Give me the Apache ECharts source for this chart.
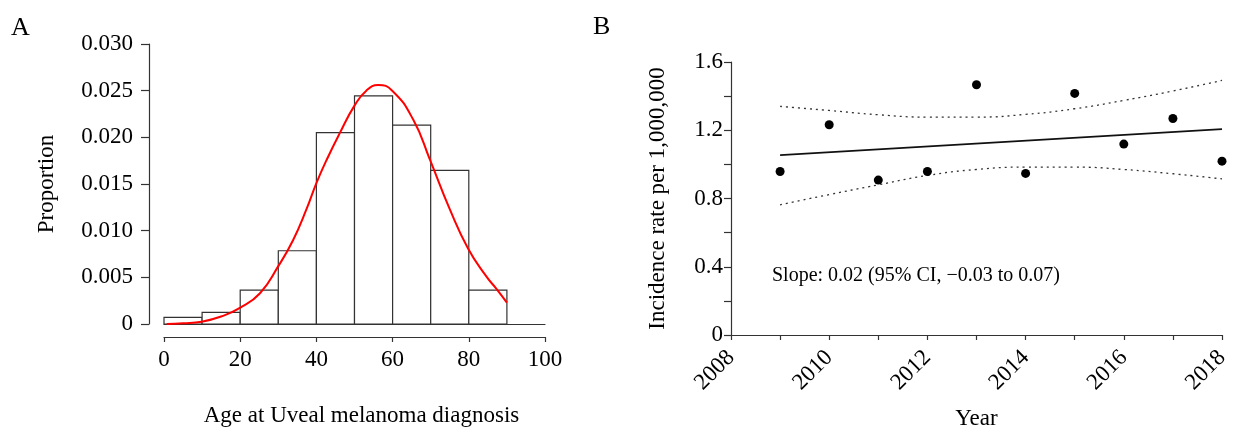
<!DOCTYPE html>
<html>
<head>
<meta charset="utf-8">
<script src="https://cdn.jsdelivr.net/npm/echarts@6/dist/echarts.min.js"></script>
<style>html,body{margin:0;padding:0;background:#fff;}#c{width:1235px;height:428px;}</style>
</head>
<body>
<div id="c"></div>
<script>
// Panel A: histogram of age at diagnosis
const binLow = [0, 10, 20, 30, 40, 50, 60, 70, 80];
const binHigh = [10, 20, 30, 40, 50, 60, 70, 80, 90];
const binProportion = [0.00072, 0.00125, 0.00362, 0.00785, 0.0205, 0.02444, 0.0213, 0.01645, 0.00362];
// Panel A: density curve (age, density)
const curveAge = [0.7, 5, 9.9, 15, 19.8, 25.2, 30, 33.9, 37.4, 40, 42.7, 46.2, 50, 53.1, 56.2, 59.9, 65.4, 69.9, 75, 79.8, 84.6, 87.2, 90];
const curveDensity = [0, 0.00008, 0.00025, 0.0008, 0.0017, 0.0033, 0.0062, 0.009, 0.0123, 0.0151, 0.0176, 0.0205, 0.0234, 0.025, 0.0256, 0.025, 0.0219, 0.0175, 0.0123, 0.0081, 0.0051, 0.0038, 0.0023];
// Panel B: incidence by year
const years = [2009, 2010, 2011, 2012, 2013, 2014, 2015, 2016, 2017, 2018];
const incidence = [0.958, 1.232, 0.908, 0.958, 1.467, 0.947, 1.416, 1.119, 1.269, 1.019];
const fitYears = [2009, 2018];
const fitValues = [1.054, 1.207];
const ciUpper = [1.340, 1.316, 1.291, 1.277, 1.277, 1.293, 1.326, 1.375, 1.430, 1.492];
const ciLower = [0.763, 0.823, 0.880, 0.935, 0.970, 0.984, 0.984, 0.970, 0.945, 0.915];
const slopeText = 'Slope: 0.02 (95% CI, \u22120.03 to 0.07)';

const FONT = '"Liberation Serif", "Times New Roman", serif';
const AX = '#333';
const FS = 23;

const chart = echarts.init(document.getElementById('c'), null, {renderer: 'canvas'});
const histData = binLow.map((lo, i) => [lo, binHigh[i], binProportion[i]]);

chart.setOption({
  animation: false,
  backgroundColor: '#fff',
  textStyle: {fontFamily: FONT, color: '#000'},
  grid: [
    {left: 164, top: 44, width: 381, height: 280, containLabel: false, outerBoundsMode: 'none'},
    {left: 731, top: 62, width: 491, height: 273, containLabel: false, outerBoundsMode: 'none'}
  ],
  xAxis: [
    {
      gridIndex: 0, type: 'value', position: 'bottom', min: 0, max: 100, interval: 20, offset: 13,
      name: 'Age at Uveal melanoma diagnosis', nameLocation: 'middle', nameGap: 67,
      nameTextStyle: {fontFamily: FONT, fontSize: FS, color: '#000', padding: [0, 0, 0, 14]},
      axisLine: {show: true, onZero: false, lineStyle: {color: AX, width: 1.2}},
      axisTick: {show: true, length: 5, lineStyle: {color: AX, width: 1.2}},
      axisLabel: {fontFamily: FONT, fontSize: FS, color: '#000', margin: 11},
      splitLine: {show: false}
    },
    {
      gridIndex: 0, type: 'value', position: 'bottom', offset: 0, min: 0, max: 100,
      axisLine: {show: true, onZero: false, lineStyle: {color: AX, width: 1.2}},
      axisTick: {show: false}, axisLabel: {show: false}, splitLine: {show: false}
    },
    {
      gridIndex: 1, type: 'value', position: 'bottom', min: 2008, max: 2018, interval: 1,
      name: 'Year', nameLocation: 'middle', nameGap: 72,
      nameTextStyle: {fontFamily: FONT, fontSize: FS, color: '#000'},
      axisLine: {show: true, onZero: false, lineStyle: {color: AX, width: 1.2}},
      axisTick: {show: true, length: 5, lineStyle: {color: AX, width: 1.2}},
      axisLabel: {
        fontFamily: FONT, fontSize: FS, color: '#000', rotate: 45, margin: 19,
        showMinLabel: true, showMaxLabel: true,
        formatter: v => (Math.round(v) % 2 === 0 ? String(Math.round(v)) : '')
      },
      splitLine: {show: false}
    }
  ],
  yAxis: [
    {
      gridIndex: 0, type: 'value', position: 'left', min: 0, max: 0.03, interval: 0.005, offset: 15,
      name: 'Proportion', nameLocation: 'middle', nameGap: 91,
      nameTextStyle: {fontFamily: FONT, fontSize: FS, color: '#000'},
      axisLine: {show: true, onZero: false, lineStyle: {color: AX, width: 1.2}},
      axisTick: {show: true, length: 8, lineStyle: {color: AX, width: 1.2}},
      axisLabel: {fontFamily: FONT, fontSize: FS, color: '#000', margin: 16,
        formatter: v => (v === 0 ? '0' : v.toFixed(3))},
      splitLine: {show: false}
    },
    {
      gridIndex: 1, type: 'value', position: 'left', min: 0, max: 1.6, interval: 0.4,
      name: 'Incidence rate per 1,000,000', nameLocation: 'middle', nameGap: 62,
      nameTextStyle: {fontFamily: FONT, fontSize: FS, color: '#000'},
      axisLine: {show: true, onZero: false, lineStyle: {color: AX, width: 1.2}},
      axisTick: {show: true, length: 7, lineStyle: {color: AX, width: 1.2}},
      minorTick: {show: true, splitNumber: 2, length: 7, lineStyle: {color: AX, width: 1.2}},
      axisLabel: {fontFamily: FONT, fontSize: FS, color: '#000', margin: 8,
        formatter: v => (v === 0 ? '0' : v.toFixed(1))},
      splitLine: {show: false}
    }
  ],
  graphic: [
    {type: 'text', left: 11, top: 15, style: {text: 'A', font: '26px ' + FONT, fill: '#000'}},
    {type: 'text', left: 593, top: 14, style: {text: 'B', font: '26px ' + FONT, fill: '#000'}},
    {type: 'text', left: 772, top: 266, style: {text: slopeText, font: '20px ' + FONT, fill: '#000'}}
  ],
  series: [
    {
      type: 'custom', xAxisIndex: 0, yAxisIndex: 0,
      data: histData, encode: {x: [0, 1], y: 2},
      renderItem: (params, api) => {
        const p0 = api.coord([api.value(0), api.value(2)]);
        const p1 = api.coord([api.value(1), 0]);
        return {type: 'rect', shape: {x: p0[0], y: p0[1], width: p1[0] - p0[0], height: p1[1] - p0[1]},
          style: {fill: '#fff', stroke: '#333', lineWidth: 1.2}};
      }
    },
    {
      type: 'line', xAxisIndex: 0, yAxisIndex: 0, smooth: true, showSymbol: false, symbol: 'none',
      data: curveAge.map((a, i) => [a, curveDensity[i]]),
      lineStyle: {color: '#ff0000', width: 2}, z: 5
    },
    {
      type: 'line', xAxisIndex: 2, yAxisIndex: 1, symbol: 'none',
      data: fitYears.map((y, i) => [y, fitValues[i]]),
      lineStyle: {color: '#111', width: 1.8}
    },
    {
      type: 'line', xAxisIndex: 2, yAxisIndex: 1, symbol: 'none', smooth: true,
      data: years.map((y, i) => [y, ciUpper[i]]),
      lineStyle: {color: '#333', width: 1.3, type: [2, 4]}
    },
    {
      type: 'line', xAxisIndex: 2, yAxisIndex: 1, symbol: 'none', smooth: true,
      data: years.map((y, i) => [y, ciLower[i]]),
      lineStyle: {color: '#333', width: 1.3, type: [2, 4]}
    },
    {
      type: 'scatter', xAxisIndex: 2, yAxisIndex: 1, symbolSize: 9,
      data: years.map((y, i) => [y, incidence[i]]),
      itemStyle: {color: '#000', opacity: 1}, z: 6
    }
  ]
});
</script>
</body>
</html>
